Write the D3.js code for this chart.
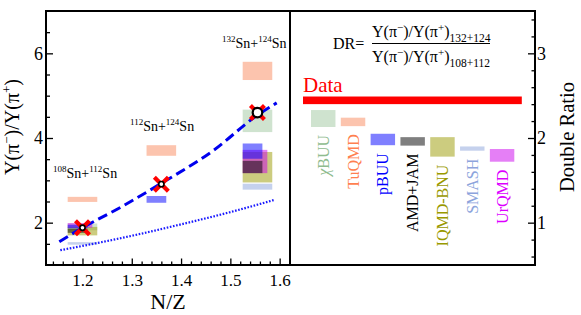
<!DOCTYPE html>
<html><head><meta charset="utf-8">
<script src="https://cdn.jsdelivr.net/npm/d3@7"></script>
<style>body{margin:0;background:#fff}svg{display:block}</style>
</head><body><svg id="c" width="581" height="315"></svg>
<script>
// ---------- data ----------
const systems = ["108Sn+112Sn", "112Sn+124Sn", "132Sn+124Sn"];
const systemNZ = [1.2, 1.36, 1.555];
const dataRatio = [1.88, 2.91, 4.60];
const fitNZ = [1.153, 1.2, 1.28, 1.36, 1.465, 1.555, 1.594];
const fitRatio = [1.55, 1.88, 2.38, 2.93, 3.70, 4.54, 4.83];
const refNZ = [1.155, 1.2, 1.3, 1.4, 1.5, 1.59];
const refRatio = [1.35, 1.45, 1.69, 1.96, 2.25, 2.54];
const models = ["χBUU", "TuQMD", "pBUU", "AMD+JAM", "IQMD-BNU", "SMASH", "UrQMD"];
// ranges [low, high] per system (null = not shown)
const chiBUU  = [[1.82, 1.98], null, [4.14, 4.67]];
const tuQMD   = [[2.49, 2.61], [3.58, 3.83], [5.37, 5.80]];
const pBUU    = [[1.86, 1.95], [2.47, 2.63], [3.51, 3.87]];
const amdJam  = [[1.76, 1.85], null, [3.17, 3.46]];
const iqmdBnu = [[1.70, 1.90], null, [2.95, 3.67]];
const smash   = [[1.48, 1.54], null, [2.78, 2.92]];
const urQMD   = [[1.88, 1.99], null, [3.17, 3.72]];
const modelRatios = [chiBUU, tuQMD, pBUU, amdJam, iqmdBnu, smash, urQMD];
const drLow  = [2.13, 2.14, 1.915, 1.91, 1.78, 1.85, 1.72];
const drHigh = [2.33, 2.24, 2.05, 2.01, 2.01, 1.90, 1.87];
const dataDR = [2.40, 2.49];
const xTicks = [1.2, 1.3, 1.4, 1.5, 1.6];
const yTicks = [2, 4, 6];
const drTicks = [1, 2, 3];

// ---------- styles ----------
const FONT = "'Liberation Serif', 'Times New Roman', Times, serif";
const fillCol = ["#a0c8a0", "#f98a5e", "#0000ff", "#000000", "#999900", "#8ca4dc", "#cc00ee"];
const textCol = ["#8fbc8f", "#ff7f50", "#0000ff", "#000000", "#999900", "#8ca4dc", "#dd00ff"];
const halfW = [0.03, 0.03, 0.02, 0.02, 0.03, 0.03, 0.025];
const drawOrder = [0, 1, 4, 5, 6, 3, 2];

const svg = d3.select("#c");
const L = 46, M = 290, R = 535, T = 11, B = 265;
const x = d3.scaleLinear().domain([1.126, 1.621]).range([L, M]);
const y = d3.scaleLinear().domain([1, 7]).range([B, T]);
const yDR = d3.scaleLinear().domain([0.5, 3.5]).range([B, T]);
const band = d3.scaleBand().domain(models).range([311, 514.3]).paddingInner(0.18).paddingOuter(0);

// ---------- left panel boxes ----------
const gL = svg.append("g");
drawOrder.forEach(mi => {
  modelRatios[mi].forEach((r, si) => {
    if (!r) return;
    const c = systemNZ[si];
    gL.append("rect")
      .attr("x", x(c - 0.03)).attr("width", x(c - 0.03 + 2 * halfW[mi]) - x(c - 0.03))
      .attr("y", y(r[1])).attr("height", y(r[0]) - y(r[1]))
      .attr("fill", fillCol[mi]).attr("fill-opacity", 0.5);
  });
});

// lines
const line = d3.line().x(d => x(d[0])).y(d => y(d[1])).curve(d3.curveMonotoneX);
gL.append("path").datum(refNZ.map((v, i) => [v, refRatio[i]]))
  .attr("d", line).attr("fill", "none").attr("stroke", "#1a1aff")
  .attr("stroke-width", 2.2).attr("stroke-dasharray", "1.6,1.6");
gL.append("path").datum(fitNZ.map((v, i) => [v, fitRatio[i]]))
  .attr("d", line).attr("fill", "none").attr("stroke", "#0000ee")
  .attr("stroke-width", 3).attr("stroke-dasharray", "10,5");

// data markers
systemNZ.forEach((c, i) => {
  const cx = x(c), cy = y(dataRatio[i]), s = 7;
  gL.append("path").attr("d", `M${cx - s},${cy - s}L${cx + s},${cy + s}M${cx - s},${cy + s}L${cx + s},${cy - s}`)
    .attr("stroke", "#ff0000").attr("stroke-width", 4.2);
  gL.append("circle").attr("cx", cx).attr("cy", cy).attr("r", i === 2 ? 4.8 : 2.6)
    .attr("fill", "#fff").attr("stroke", "#000").attr("stroke-width", i === 2 ? 2.2 : 1.6);
});

// system labels
const sysLabelPos = [[53, 177.5], [130, 131], [222, 47.5]];
systems.forEach((s, i) => {
  const m = s.match(/(\d+)Sn\+(\d+)Sn/);
  const t = svg.append("text").attr("x", sysLabelPos[i][0]).attr("y", sysLabelPos[i][1]).attr("font-size", 14);
  t.append("tspan").attr("font-size", 9).attr("dy", -6).text(m[1]);
  t.append("tspan").attr("dy", 6).text("Sn+");
  t.append("tspan").attr("font-size", 9).attr("dy", -6).text(m[2]);
  t.append("tspan").attr("dy", 6).text("Sn");
});

// ---------- axes left ----------
function ax(g, axis) { g.call(axis); g.attr("font-family", null); g.select(".domain").remove(); g.selectAll("line").attr("stroke", "#000").attr("stroke-width", 1.3); }
ax(svg.append("g").attr("transform", `translate(${L},0)`),
  d3.axisLeft(y).tickValues(d3.range(1.5, 7, 0.5).filter(v => v % 2 !== 0)).tickSize(-4).tickFormat(""));
const gy = svg.append("g").attr("transform", `translate(${L},0)`);
ax(gy, d3.axisLeft(y).tickValues(yTicks).tickSize(-7).tickPadding(3).tickFormat(d3.format("d")));
gy.selectAll("text").attr("font-size", 18).attr("fill", "#000");

ax(svg.append("g").attr("transform", `translate(0,${B})`),
  d3.axisBottom(x).tickValues(d3.range(1.14, 1.621, 0.02).filter(v => Math.abs(v * 10 - Math.round(v * 10)) > 0.01)).tickSize(-3.5).tickFormat(""));
const gx = svg.append("g").attr("transform", `translate(0,${B})`);
ax(gx, d3.axisBottom(x).tickValues(xTicks).tickSize(-6.5).tickPadding(6).tickFormat(d3.format(".1f")));
gx.selectAll("text").attr("font-size", 17).attr("fill", "#000").attr("dy", "0.9em");

// axis titles
svg.append("text").attr("x", 168).attr("y", 309).attr("text-anchor", "middle").attr("font-size", 22).text("N/Z");
const yt = svg.append("text").attr("transform", "translate(19,127) rotate(-90)").attr("text-anchor", "middle").attr("font-size", 20);
yt.append("tspan").text("Y(π");
yt.append("tspan").attr("font-size", 13).attr("dy", -8).text("−");
yt.append("tspan").attr("dy", 8).text(")/Y(π");
yt.append("tspan").attr("font-size", 13).attr("dy", -8).text("+");
yt.append("tspan").attr("dy", 8).text(")");

// ---------- right panel ----------
const gR = svg.append("g");
gR.append("rect").attr("x", band.range()[0] - 8).attr("width", band.range()[1] + 7.5 - (band.range()[0] - 8))
  .attr("y", yDR(dataDR[1])).attr("height", yDR(dataDR[0]) - yDR(dataDR[1])).attr("fill", "#ff0000");
svg.append("text").attr("x", band.range()[0] - 8).attr("y", 91.5).attr("font-size", 21).attr("fill", "#ff0000").text("Data");

models.forEach((m, i) => {
  gR.append("rect").attr("x", band(m)).attr("width", band.bandwidth())
    .attr("y", yDR(drHigh[i])).attr("height", yDR(drLow[i]) - yDR(drHigh[i]))
    .attr("fill", fillCol[i]).attr("fill-opacity", 0.5);
  const tx = band(m) + band.bandwidth() / 2 + 5.5, ty = yDR(drLow[i]) + 8;
  const t = gR.append("text").attr("transform", `translate(${tx},${ty}) rotate(-90)`)
    .attr("text-anchor", "end").attr("font-size", 16).attr("fill", textCol[i]);
  if (m.startsWith("χ")) { t.append("tspan").attr("font-style", "italic").text("χ"); t.append("tspan").text(m.slice(1)); }
  else t.text(m);
});

// DR formula
svg.append("text").attr("x", 333).attr("y", 48.5).attr("font-size", 16).text("DR=");
function frac(yb, sub) {
  const t = svg.append("text").attr("x", 372).attr("y", yb).attr("font-size", 16);
  t.append("tspan").text("Y(π");
  t.append("tspan").attr("font-size", 11).attr("dy", -6).text("−");
  t.append("tspan").attr("dy", 6).text(")/Y(π");
  t.append("tspan").attr("font-size", 11).attr("dy", -6).text("+");
  t.append("tspan").attr("dy", 6).text(")");
  t.append("tspan").attr("font-size", 11.5).attr("dy", 5).text(sub);
}
frac(37, "132+124");
frac(61.5, "108+112");
svg.append("line").attr("x1", 372).attr("x2", 490).attr("y1", 43.5).attr("y2", 43.5).attr("stroke", "#000").attr("stroke-width", 1.2);

// right axis
ax(svg.append("g").attr("transform", `translate(${R},0)`),
  d3.axisRight(yDR).tickValues(d3.range(0.6, 3.5, 0.2).filter(v => Math.abs(v - Math.round(v)) > 0.01)).tickSize(-3.5).tickFormat(""));
const gr = svg.append("g").attr("transform", `translate(${R},0)`);
ax(gr, d3.axisRight(yDR).tickValues(drTicks).tickSize(-7).tickPadding(2).tickFormat(d3.format("d")));
gr.selectAll("text").attr("font-size", 18).attr("fill", "#000");
svg.append("text").attr("transform", "translate(574,137) rotate(-90)").attr("text-anchor", "middle").attr("font-size", 20.5).text("Double Ratio");

// frames
svg.append("rect").attr("x", L).attr("y", T).attr("width", R - L).attr("height", B - T)
  .attr("fill", "none").attr("stroke", "#000").attr("stroke-width", 2);
svg.append("line").attr("x1", M).attr("x2", M).attr("y1", T).attr("y2", B).attr("stroke", "#000").attr("stroke-width", 2);

// serif font everywhere
svg.selectAll("text").style("font-family", FONT);
</script></body></html>
